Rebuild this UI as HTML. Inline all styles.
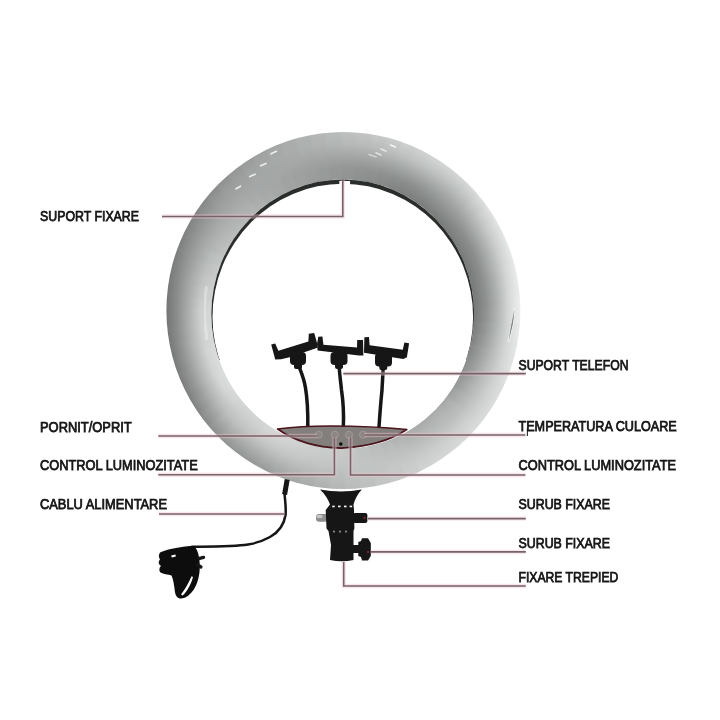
<!DOCTYPE html>
<html lang="ro">
<head>
<meta charset="utf-8">
<title>Ring light</title>
<style>
  html,body{margin:0;padding:0;background:#fff;}
  body{width:720px;height:720px;overflow:hidden;}
  svg{display:block;}
  text{font-family:"Liberation Sans",sans-serif;font-size:14px;fill:#141414;stroke:#141414;stroke-width:0.75px;}
</style>
</head>
<body>
<svg width="720" height="720" viewBox="0 0 720 720">
  <defs>
    <radialGradient id="w0" gradientUnits="userSpaceOnUse" cx="343" cy="310.5" r="178"><stop offset="0.7360" stop-color="#d4d7d6"/><stop offset="0.8020" stop-color="#cacdcc"/><stop offset="0.8680" stop-color="#aaadac"/><stop offset="0.9340" stop-color="#8a8d8c"/><stop offset="1.0000" stop-color="#6f7271"/></radialGradient>
    <radialGradient id="w1" gradientUnits="userSpaceOnUse" cx="343" cy="310.5" r="178"><stop offset="0.7360" stop-color="#d0d2d2"/><stop offset="0.8020" stop-color="#c6c8c8"/><stop offset="0.8680" stop-color="#a9acab"/><stop offset="0.9340" stop-color="#8b8e8d"/><stop offset="1.0000" stop-color="#727574"/></radialGradient>
    <radialGradient id="w2" gradientUnits="userSpaceOnUse" cx="343" cy="310.5" r="178"><stop offset="0.7360" stop-color="#cbcecd"/><stop offset="0.8020" stop-color="#c1c4c3"/><stop offset="0.8680" stop-color="#a8abaa"/><stop offset="0.9340" stop-color="#8c8f8e"/><stop offset="1.0000" stop-color="#757877"/></radialGradient>
    <radialGradient id="w3" gradientUnits="userSpaceOnUse" cx="343" cy="310.5" r="178"><stop offset="0.7360" stop-color="#c7cac9"/><stop offset="0.8020" stop-color="#bdc0bf"/><stop offset="0.8680" stop-color="#a6a9a8"/><stop offset="0.9340" stop-color="#8e9190"/><stop offset="1.0000" stop-color="#777a79"/></radialGradient>
    <radialGradient id="w4" gradientUnits="userSpaceOnUse" cx="343" cy="310.5" r="178"><stop offset="0.7360" stop-color="#c2c6c4"/><stop offset="0.8020" stop-color="#b8bcba"/><stop offset="0.8680" stop-color="#a5a8a7"/><stop offset="0.9340" stop-color="#8f9291"/><stop offset="1.0000" stop-color="#7a7d7c"/></radialGradient>
    <radialGradient id="w5" gradientUnits="userSpaceOnUse" cx="343" cy="310.5" r="178"><stop offset="0.7360" stop-color="#bec1c0"/><stop offset="0.8020" stop-color="#b4b7b6"/><stop offset="0.8680" stop-color="#a4a7a6"/><stop offset="0.9340" stop-color="#909392"/><stop offset="1.0000" stop-color="#7d807f"/></radialGradient>
    <radialGradient id="w6" gradientUnits="userSpaceOnUse" cx="343" cy="310.5" r="178"><stop offset="0.7360" stop-color="#bbbebd"/><stop offset="0.8020" stop-color="#b1b4b3"/><stop offset="0.8680" stop-color="#a3a6a5"/><stop offset="0.9340" stop-color="#929594"/><stop offset="1.0000" stop-color="#808382"/></radialGradient>
    <radialGradient id="w7" gradientUnits="userSpaceOnUse" cx="343" cy="310.5" r="178"><stop offset="0.7360" stop-color="#b8bcba"/><stop offset="0.8020" stop-color="#afb2b1"/><stop offset="0.8680" stop-color="#a2a6a4"/><stop offset="0.9340" stop-color="#959897"/><stop offset="1.0000" stop-color="#848786"/></radialGradient>
    <radialGradient id="w8" gradientUnits="userSpaceOnUse" cx="343" cy="310.5" r="178"><stop offset="0.7360" stop-color="#b6b9b8"/><stop offset="0.8020" stop-color="#adb0af"/><stop offset="0.8680" stop-color="#a2a5a4"/><stop offset="0.9340" stop-color="#989b9a"/><stop offset="1.0000" stop-color="#888b8a"/></radialGradient>
    <radialGradient id="w9" gradientUnits="userSpaceOnUse" cx="343" cy="310.5" r="178"><stop offset="0.7360" stop-color="#b2b6b4"/><stop offset="0.8020" stop-color="#abaead"/><stop offset="0.8680" stop-color="#a2a5a4"/><stop offset="0.9340" stop-color="#9b9e9d"/><stop offset="1.0000" stop-color="#8d908f"/></radialGradient>
    <radialGradient id="w10" gradientUnits="userSpaceOnUse" cx="343" cy="310.5" r="178"><stop offset="0.7360" stop-color="#aeb0b0"/><stop offset="0.8020" stop-color="#a8abaa"/><stop offset="0.8680" stop-color="#a3a6a5"/><stop offset="0.9340" stop-color="#9ea0a0"/><stop offset="1.0000" stop-color="#939695"/></radialGradient>
    <radialGradient id="w11" gradientUnits="userSpaceOnUse" cx="343" cy="310.5" r="178"><stop offset="0.7360" stop-color="#a8acaa"/><stop offset="0.8020" stop-color="#a5a8a7"/><stop offset="0.8680" stop-color="#a4a7a6"/><stop offset="0.9340" stop-color="#a0a4a2"/><stop offset="1.0000" stop-color="#999c9b"/></radialGradient>
    <radialGradient id="w12" gradientUnits="userSpaceOnUse" cx="343" cy="310.5" r="178"><stop offset="0.7360" stop-color="#a4a7a6"/><stop offset="0.8020" stop-color="#a3a6a5"/><stop offset="0.8680" stop-color="#a4a7a6"/><stop offset="0.9340" stop-color="#a3a6a5"/><stop offset="1.0000" stop-color="#9fa2a1"/></radialGradient>
    <radialGradient id="w13" gradientUnits="userSpaceOnUse" cx="343" cy="310.5" r="178"><stop offset="0.7360" stop-color="#a1a4a3"/><stop offset="0.8020" stop-color="#a0a3a2"/><stop offset="0.8680" stop-color="#a4a7a6"/><stop offset="0.9340" stop-color="#a6aaa8"/><stop offset="1.0000" stop-color="#a4a7a6"/></radialGradient>
    <radialGradient id="w14" gradientUnits="userSpaceOnUse" cx="343" cy="310.5" r="178"><stop offset="0.7360" stop-color="#9ea1a0"/><stop offset="0.8020" stop-color="#9da09f"/><stop offset="0.8680" stop-color="#a4a7a6"/><stop offset="0.9340" stop-color="#aaacac"/><stop offset="1.0000" stop-color="#a9acab"/></radialGradient>
    <radialGradient id="w15" gradientUnits="userSpaceOnUse" cx="343" cy="310.5" r="178"><stop offset="0.7360" stop-color="#9a9d9c"/><stop offset="0.8020" stop-color="#9b9e9d"/><stop offset="0.8680" stop-color="#a3a6a5"/><stop offset="0.9340" stop-color="#acb0ae"/><stop offset="1.0000" stop-color="#afb2b1"/></radialGradient>
    <radialGradient id="w16" gradientUnits="userSpaceOnUse" cx="343" cy="310.5" r="178"><stop offset="0.7360" stop-color="#979a99"/><stop offset="0.8020" stop-color="#989b9a"/><stop offset="0.8680" stop-color="#a3a6a5"/><stop offset="0.9340" stop-color="#b0b2b2"/><stop offset="1.0000" stop-color="#b4b7b6"/></radialGradient>
    <radialGradient id="w17" gradientUnits="userSpaceOnUse" cx="343" cy="310.5" r="178"><stop offset="0.7360" stop-color="#949796"/><stop offset="0.8020" stop-color="#959897"/><stop offset="0.8680" stop-color="#a3a6a5"/><stop offset="0.9340" stop-color="#b2b6b4"/><stop offset="1.0000" stop-color="#b9bcbb"/></radialGradient>
    <radialGradient id="w18" gradientUnits="userSpaceOnUse" cx="343" cy="310.5" r="178"><stop offset="0.7360" stop-color="#909392"/><stop offset="0.8020" stop-color="#939695"/><stop offset="0.8680" stop-color="#a3a6a5"/><stop offset="0.9340" stop-color="#b5b8b7"/><stop offset="1.0000" stop-color="#bec1c0"/></radialGradient>
    <radialGradient id="w19" gradientUnits="userSpaceOnUse" cx="343" cy="310.5" r="178"><stop offset="0.7360" stop-color="#8c908e"/><stop offset="0.8020" stop-color="#929494"/><stop offset="0.8680" stop-color="#a4a6a6"/><stop offset="0.9340" stop-color="#b7bab9"/><stop offset="1.0000" stop-color="#c2c4c4"/></radialGradient>
    <radialGradient id="w20" gradientUnits="userSpaceOnUse" cx="343" cy="310.5" r="178"><stop offset="0.7360" stop-color="#898c8b"/><stop offset="0.8020" stop-color="#909392"/><stop offset="0.8680" stop-color="#a4a7a6"/><stop offset="0.9340" stop-color="#b9bcbb"/><stop offset="1.0000" stop-color="#c5c8c7"/></radialGradient>
    <radialGradient id="w21" gradientUnits="userSpaceOnUse" cx="343" cy="310.5" r="178"><stop offset="0.7360" stop-color="#858887"/><stop offset="0.8020" stop-color="#8e9190"/><stop offset="0.8680" stop-color="#a4a7a6"/><stop offset="0.9340" stop-color="#bcbfbe"/><stop offset="1.0000" stop-color="#c9cccb"/></radialGradient>
    <radialGradient id="w22" gradientUnits="userSpaceOnUse" cx="343" cy="310.5" r="178"><stop offset="0.7360" stop-color="#828484"/><stop offset="0.8020" stop-color="#8c908e"/><stop offset="0.8680" stop-color="#a4a8a6"/><stop offset="0.9340" stop-color="#bec1c0"/><stop offset="1.0000" stop-color="#ccd0ce"/></radialGradient>
    <radialGradient id="w23" gradientUnits="userSpaceOnUse" cx="343" cy="310.5" r="178"><stop offset="0.7360" stop-color="#7e8180"/><stop offset="0.8020" stop-color="#8b8e8d"/><stop offset="0.8680" stop-color="#a5a8a7"/><stop offset="0.9340" stop-color="#c0c3c2"/><stop offset="1.0000" stop-color="#d0d3d2"/></radialGradient>
    <radialGradient id="w24" gradientUnits="userSpaceOnUse" cx="343" cy="310.5" r="178"><stop offset="0.7360" stop-color="#7b7e7d"/><stop offset="0.8020" stop-color="#8b8e8d"/><stop offset="0.8680" stop-color="#a5a8a7"/><stop offset="0.9340" stop-color="#c0c4c2"/><stop offset="1.0000" stop-color="#d3d6d5"/></radialGradient>
    <radialGradient id="w25" gradientUnits="userSpaceOnUse" cx="343" cy="310.5" r="178"><stop offset="0.7360" stop-color="#7a7d7c"/><stop offset="0.8020" stop-color="#8c908e"/><stop offset="0.8680" stop-color="#a4a8a6"/><stop offset="0.9340" stop-color="#c0c2c2"/><stop offset="1.0000" stop-color="#d4d7d6"/></radialGradient>
    <radialGradient id="w26" gradientUnits="userSpaceOnUse" cx="343" cy="310.5" r="178"><stop offset="0.7360" stop-color="#797c7b"/><stop offset="0.8020" stop-color="#8e9190"/><stop offset="0.8680" stop-color="#a4a7a6"/><stop offset="0.9340" stop-color="#bec2c0"/><stop offset="1.0000" stop-color="#d5d8d7"/></radialGradient>
    <radialGradient id="w27" gradientUnits="userSpaceOnUse" cx="343" cy="310.5" r="178"><stop offset="0.7360" stop-color="#787c7a"/><stop offset="0.8020" stop-color="#8e9190"/><stop offset="0.8680" stop-color="#a5a8a7"/><stop offset="0.9340" stop-color="#c0c3c2"/><stop offset="1.0000" stop-color="#d8dbda"/></radialGradient>
    <radialGradient id="w28" gradientUnits="userSpaceOnUse" cx="343" cy="310.5" r="178"><stop offset="0.7360" stop-color="#7a7c7c"/><stop offset="0.8020" stop-color="#8d908f"/><stop offset="0.8680" stop-color="#a7aaa9"/><stop offset="0.9340" stop-color="#c4c7c6"/><stop offset="1.0000" stop-color="#dcdfde"/></radialGradient>
    <radialGradient id="w29" gradientUnits="userSpaceOnUse" cx="343" cy="310.5" r="178"><stop offset="0.7360" stop-color="#7a7e7c"/><stop offset="0.8020" stop-color="#8c8f8e"/><stop offset="0.8680" stop-color="#a9acab"/><stop offset="0.9340" stop-color="#c8cbca"/><stop offset="1.0000" stop-color="#e0e3e2"/></radialGradient>
    <radialGradient id="w30" gradientUnits="userSpaceOnUse" cx="343" cy="310.5" r="178"><stop offset="0.7360" stop-color="#7a7d7c"/><stop offset="0.8020" stop-color="#8b8e8d"/><stop offset="0.8680" stop-color="#aaaeac"/><stop offset="0.9340" stop-color="#cbcecd"/><stop offset="1.0000" stop-color="#e3e6e5"/></radialGradient>
    <radialGradient id="w31" gradientUnits="userSpaceOnUse" cx="343" cy="310.5" r="178"><stop offset="0.7360" stop-color="#797c7b"/><stop offset="0.8020" stop-color="#8c8e8e"/><stop offset="0.8680" stop-color="#acaeae"/><stop offset="0.9340" stop-color="#cdd0cf"/><stop offset="1.0000" stop-color="#e5e8e7"/></radialGradient>
    <radialGradient id="w32" gradientUnits="userSpaceOnUse" cx="343" cy="310.5" r="178"><stop offset="0.7360" stop-color="#787b7a"/><stop offset="0.8020" stop-color="#8c8f8e"/><stop offset="0.8680" stop-color="#acb0ae"/><stop offset="0.9340" stop-color="#cfd2d1"/><stop offset="1.0000" stop-color="#e7eae9"/></radialGradient>
    <radialGradient id="w33" gradientUnits="userSpaceOnUse" cx="343" cy="310.5" r="178"><stop offset="0.7360" stop-color="#777a79"/><stop offset="0.8020" stop-color="#8c8f8e"/><stop offset="0.8680" stop-color="#aeb0b0"/><stop offset="0.9340" stop-color="#d2d5d4"/><stop offset="1.0000" stop-color="#e9eceb"/></radialGradient>
    <radialGradient id="w34" gradientUnits="userSpaceOnUse" cx="343" cy="310.5" r="178"><stop offset="0.7360" stop-color="#767978"/><stop offset="0.8020" stop-color="#8c908e"/><stop offset="0.8680" stop-color="#aeb2b0"/><stop offset="0.9340" stop-color="#d4d7d6"/><stop offset="1.0000" stop-color="#ebeeed"/></radialGradient>
    <radialGradient id="w35" gradientUnits="userSpaceOnUse" cx="343" cy="310.5" r="178"><stop offset="0.7360" stop-color="#757877"/><stop offset="0.8020" stop-color="#8d908f"/><stop offset="0.8680" stop-color="#b0b2b2"/><stop offset="0.9340" stop-color="#d6d9d8"/><stop offset="1.0000" stop-color="#edf0ef"/></radialGradient>
    <radialGradient id="w36" gradientUnits="userSpaceOnUse" cx="343" cy="310.5" r="178"><stop offset="0.7360" stop-color="#767978"/><stop offset="0.8020" stop-color="#8f9291"/><stop offset="0.8680" stop-color="#b1b4b3"/><stop offset="0.9340" stop-color="#d6d9d8"/><stop offset="1.0000" stop-color="#ecf0ee"/></radialGradient>
    <radialGradient id="w37" gradientUnits="userSpaceOnUse" cx="343" cy="310.5" r="178"><stop offset="0.7360" stop-color="#7a7c7c"/><stop offset="0.8020" stop-color="#929594"/><stop offset="0.8680" stop-color="#b2b6b4"/><stop offset="0.9340" stop-color="#d4d8d6"/><stop offset="1.0000" stop-color="#eaecec"/></radialGradient>
    <radialGradient id="w38" gradientUnits="userSpaceOnUse" cx="343" cy="310.5" r="178"><stop offset="0.7360" stop-color="#7d807f"/><stop offset="0.8020" stop-color="#959897"/><stop offset="0.8680" stop-color="#b4b7b6"/><stop offset="0.9340" stop-color="#d3d6d5"/><stop offset="1.0000" stop-color="#e6e9e8"/></radialGradient>
    <radialGradient id="w39" gradientUnits="userSpaceOnUse" cx="343" cy="310.5" r="178"><stop offset="0.7360" stop-color="#818483"/><stop offset="0.8020" stop-color="#999c9b"/><stop offset="0.8680" stop-color="#b6b9b8"/><stop offset="0.9340" stop-color="#d1d4d3"/><stop offset="1.0000" stop-color="#e4e6e6"/></radialGradient>
    <radialGradient id="w40" gradientUnits="userSpaceOnUse" cx="343" cy="310.5" r="178"><stop offset="0.7360" stop-color="#848886"/><stop offset="0.8020" stop-color="#9c9f9e"/><stop offset="0.8680" stop-color="#b8baba"/><stop offset="0.9340" stop-color="#d0d2d2"/><stop offset="1.0000" stop-color="#e0e4e2"/></radialGradient>
    <radialGradient id="w41" gradientUnits="userSpaceOnUse" cx="343" cy="310.5" r="178"><stop offset="0.7360" stop-color="#888b8a"/><stop offset="0.8020" stop-color="#9fa2a1"/><stop offset="0.8680" stop-color="#b9bcbb"/><stop offset="0.9340" stop-color="#ced1d0"/><stop offset="1.0000" stop-color="#dee0e0"/></radialGradient>
    <radialGradient id="w42" gradientUnits="userSpaceOnUse" cx="343" cy="310.5" r="178"><stop offset="0.7360" stop-color="#8e9190"/><stop offset="0.8020" stop-color="#a4a7a6"/><stop offset="0.8680" stop-color="#babdbc"/><stop offset="0.9340" stop-color="#cdd0cf"/><stop offset="1.0000" stop-color="#dbdedd"/></radialGradient>
    <radialGradient id="w43" gradientUnits="userSpaceOnUse" cx="343" cy="310.5" r="178"><stop offset="0.7360" stop-color="#969a98"/><stop offset="0.8020" stop-color="#aaacac"/><stop offset="0.8680" stop-color="#bbbebd"/><stop offset="0.9340" stop-color="#ced0d0"/><stop offset="1.0000" stop-color="#dadddc"/></radialGradient>
    <radialGradient id="w44" gradientUnits="userSpaceOnUse" cx="343" cy="310.5" r="178"><stop offset="0.7360" stop-color="#9fa2a1"/><stop offset="0.8020" stop-color="#afb2b1"/><stop offset="0.8680" stop-color="#bcbfbe"/><stop offset="0.9340" stop-color="#ced1d0"/><stop offset="1.0000" stop-color="#d9dcdb"/></radialGradient>
    <radialGradient id="w45" gradientUnits="userSpaceOnUse" cx="343" cy="310.5" r="178"><stop offset="0.7360" stop-color="#a2a5a4"/><stop offset="0.8020" stop-color="#b1b4b3"/><stop offset="0.8680" stop-color="#bcbfbe"/><stop offset="0.9340" stop-color="#cdd0cf"/><stop offset="1.0000" stop-color="#d7dad9"/></radialGradient>
    <radialGradient id="w46" gradientUnits="userSpaceOnUse" cx="343" cy="310.5" r="178"><stop offset="0.7360" stop-color="#a0a4a2"/><stop offset="0.8020" stop-color="#b0b3b2"/><stop offset="0.8680" stop-color="#bcc0be"/><stop offset="0.9340" stop-color="#cccfce"/><stop offset="1.0000" stop-color="#d5d8d7"/></radialGradient>
    <radialGradient id="w47" gradientUnits="userSpaceOnUse" cx="343" cy="310.5" r="178"><stop offset="0.7360" stop-color="#9fa2a1"/><stop offset="0.8020" stop-color="#afb2b1"/><stop offset="0.8680" stop-color="#bdc0bf"/><stop offset="0.9340" stop-color="#cbcecd"/><stop offset="1.0000" stop-color="#d3d6d5"/></radialGradient>
    <radialGradient id="w48" gradientUnits="userSpaceOnUse" cx="343" cy="310.5" r="178"><stop offset="0.7360" stop-color="#a1a4a3"/><stop offset="0.8020" stop-color="#b0b3b2"/><stop offset="0.8680" stop-color="#bdc0bf"/><stop offset="0.9340" stop-color="#c9cccb"/><stop offset="1.0000" stop-color="#d0d3d2"/></radialGradient>
    <radialGradient id="w49" gradientUnits="userSpaceOnUse" cx="343" cy="310.5" r="178"><stop offset="0.7360" stop-color="#a8abaa"/><stop offset="0.8020" stop-color="#b4b7b6"/><stop offset="0.8680" stop-color="#bec1c0"/><stop offset="0.9340" stop-color="#c7cac9"/><stop offset="1.0000" stop-color="#cbcecd"/></radialGradient>
    <radialGradient id="w50" gradientUnits="userSpaceOnUse" cx="343" cy="310.5" r="178"><stop offset="0.7360" stop-color="#afb2b1"/><stop offset="0.8020" stop-color="#b8bbba"/><stop offset="0.8680" stop-color="#bfc2c1"/><stop offset="0.9340" stop-color="#c5c8c7"/><stop offset="1.0000" stop-color="#c6c9c8"/></radialGradient>
    <radialGradient id="w51" gradientUnits="userSpaceOnUse" cx="343" cy="310.5" r="178"><stop offset="0.7360" stop-color="#b5b8b7"/><stop offset="0.8020" stop-color="#bbbebd"/><stop offset="0.8680" stop-color="#c0c3c2"/><stop offset="0.9340" stop-color="#c2c5c4"/><stop offset="1.0000" stop-color="#c2c5c4"/></radialGradient>
    <radialGradient id="w52" gradientUnits="userSpaceOnUse" cx="343" cy="310.5" r="178"><stop offset="0.7360" stop-color="#bcbfbe"/><stop offset="0.8020" stop-color="#bfc2c1"/><stop offset="0.8680" stop-color="#c1c4c3"/><stop offset="0.9340" stop-color="#c0c3c2"/><stop offset="1.0000" stop-color="#bdc0bf"/></radialGradient>
    <radialGradient id="w53" gradientUnits="userSpaceOnUse" cx="343" cy="310.5" r="178"><stop offset="0.7360" stop-color="#c3c6c5"/><stop offset="0.8020" stop-color="#c3c6c5"/><stop offset="0.8680" stop-color="#c2c5c4"/><stop offset="0.9340" stop-color="#bec1c0"/><stop offset="1.0000" stop-color="#b8bbba"/></radialGradient>
    <radialGradient id="w54" gradientUnits="userSpaceOnUse" cx="343" cy="310.5" r="178"><stop offset="0.7360" stop-color="#c8cbca"/><stop offset="0.8020" stop-color="#c6c9c8"/><stop offset="0.8680" stop-color="#c2c5c4"/><stop offset="0.9340" stop-color="#bbbebd"/><stop offset="1.0000" stop-color="#b3b6b5"/></radialGradient>
    <radialGradient id="w55" gradientUnits="userSpaceOnUse" cx="343" cy="310.5" r="178"><stop offset="0.7360" stop-color="#cbcecd"/><stop offset="0.8020" stop-color="#c8ccca"/><stop offset="0.8680" stop-color="#c2c5c4"/><stop offset="0.9340" stop-color="#b8bbba"/><stop offset="1.0000" stop-color="#aeb0b0"/></radialGradient>
    <radialGradient id="w56" gradientUnits="userSpaceOnUse" cx="343" cy="310.5" r="178"><stop offset="0.7360" stop-color="#ced1d0"/><stop offset="0.8020" stop-color="#cbcecd"/><stop offset="0.8680" stop-color="#c2c5c4"/><stop offset="0.9340" stop-color="#b5b8b7"/><stop offset="1.0000" stop-color="#a8abaa"/></radialGradient>
    <radialGradient id="w57" gradientUnits="userSpaceOnUse" cx="343" cy="310.5" r="178"><stop offset="0.7360" stop-color="#d2d5d4"/><stop offset="0.8020" stop-color="#cdd0cf"/><stop offset="0.8680" stop-color="#c3c6c5"/><stop offset="0.9340" stop-color="#b2b5b4"/><stop offset="1.0000" stop-color="#a2a5a4"/></radialGradient>
    <radialGradient id="w58" gradientUnits="userSpaceOnUse" cx="343" cy="310.5" r="178"><stop offset="0.7360" stop-color="#d5d8d7"/><stop offset="0.8020" stop-color="#d0d2d2"/><stop offset="0.8680" stop-color="#c3c6c5"/><stop offset="0.9340" stop-color="#afb2b1"/><stop offset="1.0000" stop-color="#9ca09e"/></radialGradient>
    <radialGradient id="w59" gradientUnits="userSpaceOnUse" cx="343" cy="310.5" r="178"><stop offset="0.7360" stop-color="#d8dbda"/><stop offset="0.8020" stop-color="#d2d5d4"/><stop offset="0.8680" stop-color="#c3c6c5"/><stop offset="0.9340" stop-color="#acafae"/><stop offset="1.0000" stop-color="#979a99"/></radialGradient>
    <radialGradient id="w60" gradientUnits="userSpaceOnUse" cx="343" cy="310.5" r="178"><stop offset="0.7360" stop-color="#d9dcdb"/><stop offset="0.8020" stop-color="#d2d5d4"/><stop offset="0.8680" stop-color="#c2c5c4"/><stop offset="0.9340" stop-color="#a9acab"/><stop offset="1.0000" stop-color="#939695"/></radialGradient>
    <radialGradient id="w61" gradientUnits="userSpaceOnUse" cx="343" cy="310.5" r="178"><stop offset="0.7360" stop-color="#d8dbda"/><stop offset="0.8020" stop-color="#d0d2d2"/><stop offset="0.8680" stop-color="#c0c4c2"/><stop offset="0.9340" stop-color="#a8abaa"/><stop offset="1.0000" stop-color="#909492"/></radialGradient>
    <radialGradient id="w62" gradientUnits="userSpaceOnUse" cx="343" cy="310.5" r="178"><stop offset="0.7360" stop-color="#d7dad9"/><stop offset="0.8020" stop-color="#cdd0cf"/><stop offset="0.8680" stop-color="#bfc2c1"/><stop offset="0.9340" stop-color="#a7aaa9"/><stop offset="1.0000" stop-color="#8e9190"/></radialGradient>
    <radialGradient id="w63" gradientUnits="userSpaceOnUse" cx="343" cy="310.5" r="178"><stop offset="0.7360" stop-color="#d8dbda"/><stop offset="0.8020" stop-color="#cdd0cf"/><stop offset="0.8680" stop-color="#bdc0bf"/><stop offset="0.9340" stop-color="#a3a6a5"/><stop offset="1.0000" stop-color="#8a8d8c"/></radialGradient>
    <radialGradient id="w64" gradientUnits="userSpaceOnUse" cx="343" cy="310.5" r="178"><stop offset="0.7360" stop-color="#dbdedd"/><stop offset="0.8020" stop-color="#d0d3d2"/><stop offset="0.8680" stop-color="#babdbc"/><stop offset="0.9340" stop-color="#9ea0a0"/><stop offset="1.0000" stop-color="#848786"/></radialGradient>
    <radialGradient id="w65" gradientUnits="userSpaceOnUse" cx="343" cy="310.5" r="178"><stop offset="0.7360" stop-color="#dee1e0"/><stop offset="0.8020" stop-color="#d3d6d5"/><stop offset="0.8680" stop-color="#b7bab9"/><stop offset="0.9340" stop-color="#989b9a"/><stop offset="1.0000" stop-color="#7e8180"/></radialGradient>
    <radialGradient id="w66" gradientUnits="userSpaceOnUse" cx="343" cy="310.5" r="178"><stop offset="0.7360" stop-color="#dfe2e1"/><stop offset="0.8020" stop-color="#d3d6d5"/><stop offset="0.8680" stop-color="#b5b8b7"/><stop offset="0.9340" stop-color="#949796"/><stop offset="1.0000" stop-color="#7a7d7c"/></radialGradient>
    <radialGradient id="w67" gradientUnits="userSpaceOnUse" cx="343" cy="310.5" r="178"><stop offset="0.7360" stop-color="#dee0e0"/><stop offset="0.8020" stop-color="#d2d5d4"/><stop offset="0.8680" stop-color="#b3b6b5"/><stop offset="0.9340" stop-color="#929594"/><stop offset="1.0000" stop-color="#787b7a"/></radialGradient>
    <radialGradient id="w68" gradientUnits="userSpaceOnUse" cx="343" cy="310.5" r="178"><stop offset="0.7360" stop-color="#dcdfde"/><stop offset="0.8020" stop-color="#d1d4d3"/><stop offset="0.8680" stop-color="#b1b4b3"/><stop offset="0.9340" stop-color="#909392"/><stop offset="1.0000" stop-color="#767978"/></radialGradient>
    <radialGradient id="w69" gradientUnits="userSpaceOnUse" cx="343" cy="310.5" r="178"><stop offset="0.7360" stop-color="#dadddc"/><stop offset="0.8020" stop-color="#cfd2d1"/><stop offset="0.8680" stop-color="#b0b3b2"/><stop offset="0.9340" stop-color="#8e9190"/><stop offset="1.0000" stop-color="#737675"/></radialGradient>
    <radialGradient id="w70" gradientUnits="userSpaceOnUse" cx="343" cy="310.5" r="178"><stop offset="0.7360" stop-color="#d8dcda"/><stop offset="0.8020" stop-color="#ced1d0"/><stop offset="0.8680" stop-color="#aeb1b0"/><stop offset="0.9340" stop-color="#8c8f8e"/><stop offset="1.0000" stop-color="#717473"/></radialGradient>
    <radialGradient id="w71" gradientUnits="userSpaceOnUse" cx="343" cy="310.5" r="178"><stop offset="0.7360" stop-color="#d7dad9"/><stop offset="0.8020" stop-color="#cdd0cf"/><stop offset="0.8680" stop-color="#acafae"/><stop offset="0.9340" stop-color="#8a8d8c"/><stop offset="1.0000" stop-color="#6f7271"/></radialGradient>
    <clipPath id="ringClip"><path clip-rule="evenodd" d="M343.4,132 a177,178.5 0 1 0 0.01,0 Z M342.75,179.5 a131.4,134.6 0 1 1 -0.01,0 Z"/></clipPath>
    <clipPath id="hole"><ellipse cx="342.75" cy="314.1" rx="131.4" ry="134.6"/></clipPath>
    <filter id="soft" x="-5%" y="-5%" width="110%" height="110%"><feGaussianBlur stdDeviation="0.6"/></filter>
    <filter id="wb" x="-5%" y="-5%" width="110%" height="110%"><feGaussianBlur stdDeviation="1.3"/></filter>
    <filter id="soft2" x="-5%" y="-5%" width="110%" height="110%"><feGaussianBlur stdDeviation="0.45"/></filter>
    <filter id="soft3" x="-20%" y="-20%" width="140%" height="140%"><feGaussianBlur stdDeviation="2"/></filter>
    <filter id="softL" x="-5%" y="-5%" width="110%" height="110%"><feGaussianBlur stdDeviation="0.3"/></filter>
  </defs>

  <!-- RING -->
  <g filter="url(#soft)">
    <g clip-path="url(#ringClip)">
      <g filter="url(#wb)">
        <path d="M219.01,311.80 L157.01,312.45 A186,186 0 0 1 157.89,292.35 L219.59,298.40 A124,124 0 0 0 219.01,311.80 Z" fill="url(#w0)"/>
        <path d="M219.37,300.99 L157.55,296.23 A186,186 0 0 1 160.17,276.29 L221.12,287.69 A124,124 0 0 0 219.37,300.99 Z" fill="url(#w1)"/>
        <path d="M220.67,290.25 L159.50,280.12 A186,186 0 0 1 163.85,260.48 L223.57,277.15 A124,124 0 0 0 220.67,290.25 Z" fill="url(#w2)"/>
        <path d="M222.90,279.66 L162.84,264.24 A186,186 0 0 1 168.89,245.06 L226.93,266.87 A124,124 0 0 0 222.90,279.66 Z" fill="url(#w3)"/>
        <path d="M226.04,269.31 L167.56,248.72 A186,186 0 0 1 175.26,230.13 L231.17,256.92 A124,124 0 0 0 226.04,269.31 Z" fill="url(#w4)"/>
        <path d="M230.08,259.28 L173.61,233.66 A186,186 0 0 1 182.90,215.82 L236.27,247.38 A124,124 0 0 0 230.08,259.28 Z" fill="url(#w5)"/>
        <path d="M234.97,249.63 L180.95,219.19 A186,186 0 0 1 191.76,202.23 L242.18,238.32 A124,124 0 0 0 234.97,249.63 Z" fill="url(#w6)"/>
        <path d="M240.69,240.44 L189.53,205.42 A186,186 0 0 1 201.78,189.46 L248.85,229.80 A124,124 0 0 0 240.69,240.44 Z" fill="url(#w7)"/>
        <path d="M247.18,231.79 L199.27,192.44 A186,186 0 0 1 212.86,177.61 L256.24,221.91 A124,124 0 0 0 247.18,231.79 Z" fill="url(#w8)"/>
        <path d="M254.41,223.74 L210.11,180.36 A186,186 0 0 1 224.94,166.77 L264.29,214.68 A124,124 0 0 0 254.41,223.74 Z" fill="url(#w9)"/>
        <path d="M262.30,216.35 L221.96,169.28 A186,186 0 0 1 237.92,157.03 L272.94,208.19 A124,124 0 0 0 262.30,216.35 Z" fill="url(#w10)"/>
        <path d="M270.82,209.68 L234.73,159.26 A186,186 0 0 1 251.69,148.45 L282.13,202.47 A124,124 0 0 0 270.82,209.68 Z" fill="url(#w11)"/>
        <path d="M279.88,203.77 L248.32,150.40 A186,186 0 0 1 266.16,141.11 L291.78,197.58 A124,124 0 0 0 279.88,203.77 Z" fill="url(#w12)"/>
        <path d="M289.42,198.67 L262.63,142.76 A186,186 0 0 1 281.22,135.06 L301.81,193.54 A124,124 0 0 0 289.42,198.67 Z" fill="url(#w13)"/>
        <path d="M299.37,194.43 L277.56,136.39 A186,186 0 0 1 296.74,130.34 L312.16,190.40 A124,124 0 0 0 299.37,194.43 Z" fill="url(#w14)"/>
        <path d="M309.65,191.07 L292.98,131.35 A186,186 0 0 1 312.62,127.00 L322.75,188.17 A124,124 0 0 0 309.65,191.07 Z" fill="url(#w15)"/>
        <path d="M320.19,188.62 L308.79,127.67 A186,186 0 0 1 328.73,125.05 L333.49,186.87 A124,124 0 0 0 320.19,188.62 Z" fill="url(#w16)"/>
        <path d="M330.90,187.09 L324.85,125.39 A186,186 0 0 1 344.95,124.51 L344.30,186.51 A124,124 0 0 0 330.90,187.09 Z" fill="url(#w17)"/>
        <path d="M341.70,186.51 L341.05,124.51 A186,186 0 0 1 361.15,125.39 L355.10,187.09 A124,124 0 0 0 341.70,186.51 Z" fill="url(#w18)"/>
        <path d="M352.51,186.87 L357.27,125.05 A186,186 0 0 1 377.21,127.67 L365.81,188.62 A124,124 0 0 0 352.51,186.87 Z" fill="url(#w19)"/>
        <path d="M363.25,188.17 L373.38,127.00 A186,186 0 0 1 393.02,131.35 L376.35,191.07 A124,124 0 0 0 363.25,188.17 Z" fill="url(#w20)"/>
        <path d="M373.84,190.40 L389.26,130.34 A186,186 0 0 1 408.44,136.39 L386.63,194.43 A124,124 0 0 0 373.84,190.40 Z" fill="url(#w21)"/>
        <path d="M384.19,193.54 L404.78,135.06 A186,186 0 0 1 423.37,142.76 L396.58,198.67 A124,124 0 0 0 384.19,193.54 Z" fill="url(#w22)"/>
        <path d="M394.22,197.58 L419.84,141.11 A186,186 0 0 1 437.68,150.40 L406.12,203.77 A124,124 0 0 0 394.22,197.58 Z" fill="url(#w23)"/>
        <path d="M403.87,202.47 L434.31,148.45 A186,186 0 0 1 451.27,159.26 L415.18,209.68 A124,124 0 0 0 403.87,202.47 Z" fill="url(#w24)"/>
        <path d="M413.06,208.19 L448.08,157.03 A186,186 0 0 1 464.04,169.28 L423.70,216.35 A124,124 0 0 0 413.06,208.19 Z" fill="url(#w25)"/>
        <path d="M421.71,214.68 L461.06,166.77 A186,186 0 0 1 475.89,180.36 L431.59,223.74 A124,124 0 0 0 421.71,214.68 Z" fill="url(#w26)"/>
        <path d="M429.76,221.91 L473.14,177.61 A186,186 0 0 1 486.73,192.44 L438.82,231.79 A124,124 0 0 0 429.76,221.91 Z" fill="url(#w27)"/>
        <path d="M437.15,229.80 L484.22,189.46 A186,186 0 0 1 496.47,205.42 L445.31,240.44 A124,124 0 0 0 437.15,229.80 Z" fill="url(#w28)"/>
        <path d="M443.82,238.32 L494.24,202.23 A186,186 0 0 1 505.05,219.19 L451.03,249.63 A124,124 0 0 0 443.82,238.32 Z" fill="url(#w29)"/>
        <path d="M449.73,247.38 L503.10,215.82 A186,186 0 0 1 512.39,233.66 L455.92,259.28 A124,124 0 0 0 449.73,247.38 Z" fill="url(#w30)"/>
        <path d="M454.83,256.92 L510.74,230.13 A186,186 0 0 1 518.44,248.72 L459.96,269.31 A124,124 0 0 0 454.83,256.92 Z" fill="url(#w31)"/>
        <path d="M459.07,266.87 L517.11,245.06 A186,186 0 0 1 523.16,264.24 L463.10,279.66 A124,124 0 0 0 459.07,266.87 Z" fill="url(#w32)"/>
        <path d="M462.43,277.15 L522.15,260.48 A186,186 0 0 1 526.50,280.12 L465.33,290.25 A124,124 0 0 0 462.43,277.15 Z" fill="url(#w33)"/>
        <path d="M464.88,287.69 L525.83,276.29 A186,186 0 0 1 528.45,296.23 L466.63,300.99 A124,124 0 0 0 464.88,287.69 Z" fill="url(#w34)"/>
        <path d="M466.41,298.40 L528.11,292.35 A186,186 0 0 1 528.99,312.45 L466.99,311.80 A124,124 0 0 0 466.41,298.40 Z" fill="url(#w35)"/>
        <path d="M466.99,309.20 L528.99,308.55 A186,186 0 0 1 528.11,328.65 L466.41,322.60 A124,124 0 0 0 466.99,309.20 Z" fill="url(#w36)"/>
        <path d="M466.63,320.01 L528.45,324.77 A186,186 0 0 1 525.83,344.71 L464.88,333.31 A124,124 0 0 0 466.63,320.01 Z" fill="url(#w37)"/>
        <path d="M465.33,330.75 L526.50,340.88 A186,186 0 0 1 522.15,360.52 L462.43,343.85 A124,124 0 0 0 465.33,330.75 Z" fill="url(#w38)"/>
        <path d="M463.10,341.34 L523.16,356.76 A186,186 0 0 1 517.11,375.94 L459.07,354.13 A124,124 0 0 0 463.10,341.34 Z" fill="url(#w39)"/>
        <path d="M459.96,351.69 L518.44,372.28 A186,186 0 0 1 510.74,390.87 L454.83,364.08 A124,124 0 0 0 459.96,351.69 Z" fill="url(#w40)"/>
        <path d="M455.92,361.72 L512.39,387.34 A186,186 0 0 1 503.10,405.18 L449.73,373.62 A124,124 0 0 0 455.92,361.72 Z" fill="url(#w41)"/>
        <path d="M451.03,371.37 L505.05,401.81 A186,186 0 0 1 494.24,418.77 L443.82,382.68 A124,124 0 0 0 451.03,371.37 Z" fill="url(#w42)"/>
        <path d="M445.31,380.56 L496.47,415.58 A186,186 0 0 1 484.22,431.54 L437.15,391.20 A124,124 0 0 0 445.31,380.56 Z" fill="url(#w43)"/>
        <path d="M438.82,389.21 L486.73,428.56 A186,186 0 0 1 473.14,443.39 L429.76,399.09 A124,124 0 0 0 438.82,389.21 Z" fill="url(#w44)"/>
        <path d="M431.59,397.26 L475.89,440.64 A186,186 0 0 1 461.06,454.23 L421.71,406.32 A124,124 0 0 0 431.59,397.26 Z" fill="url(#w45)"/>
        <path d="M423.70,404.65 L464.04,451.72 A186,186 0 0 1 448.08,463.97 L413.06,412.81 A124,124 0 0 0 423.70,404.65 Z" fill="url(#w46)"/>
        <path d="M415.18,411.32 L451.27,461.74 A186,186 0 0 1 434.31,472.55 L403.87,418.53 A124,124 0 0 0 415.18,411.32 Z" fill="url(#w47)"/>
        <path d="M406.12,417.23 L437.68,470.60 A186,186 0 0 1 419.84,479.89 L394.22,423.42 A124,124 0 0 0 406.12,417.23 Z" fill="url(#w48)"/>
        <path d="M396.58,422.33 L423.37,478.24 A186,186 0 0 1 404.78,485.94 L384.19,427.46 A124,124 0 0 0 396.58,422.33 Z" fill="url(#w49)"/>
        <path d="M386.63,426.57 L408.44,484.61 A186,186 0 0 1 389.26,490.66 L373.84,430.60 A124,124 0 0 0 386.63,426.57 Z" fill="url(#w50)"/>
        <path d="M376.35,429.93 L393.02,489.65 A186,186 0 0 1 373.38,494.00 L363.25,432.83 A124,124 0 0 0 376.35,429.93 Z" fill="url(#w51)"/>
        <path d="M365.81,432.38 L377.21,493.33 A186,186 0 0 1 357.27,495.95 L352.51,434.13 A124,124 0 0 0 365.81,432.38 Z" fill="url(#w52)"/>
        <path d="M355.10,433.91 L361.15,495.61 A186,186 0 0 1 341.05,496.49 L341.70,434.49 A124,124 0 0 0 355.10,433.91 Z" fill="url(#w53)"/>
        <path d="M344.30,434.49 L344.95,496.49 A186,186 0 0 1 324.85,495.61 L330.90,433.91 A124,124 0 0 0 344.30,434.49 Z" fill="url(#w54)"/>
        <path d="M333.49,434.13 L328.73,495.95 A186,186 0 0 1 308.79,493.33 L320.19,432.38 A124,124 0 0 0 333.49,434.13 Z" fill="url(#w55)"/>
        <path d="M322.75,432.83 L312.62,494.00 A186,186 0 0 1 292.98,489.65 L309.65,429.93 A124,124 0 0 0 322.75,432.83 Z" fill="url(#w56)"/>
        <path d="M312.16,430.60 L296.74,490.66 A186,186 0 0 1 277.56,484.61 L299.37,426.57 A124,124 0 0 0 312.16,430.60 Z" fill="url(#w57)"/>
        <path d="M301.81,427.46 L281.22,485.94 A186,186 0 0 1 262.63,478.24 L289.42,422.33 A124,124 0 0 0 301.81,427.46 Z" fill="url(#w58)"/>
        <path d="M291.78,423.42 L266.16,479.89 A186,186 0 0 1 248.32,470.60 L279.88,417.23 A124,124 0 0 0 291.78,423.42 Z" fill="url(#w59)"/>
        <path d="M282.13,418.53 L251.69,472.55 A186,186 0 0 1 234.73,461.74 L270.82,411.32 A124,124 0 0 0 282.13,418.53 Z" fill="url(#w60)"/>
        <path d="M272.94,412.81 L237.92,463.97 A186,186 0 0 1 221.96,451.72 L262.30,404.65 A124,124 0 0 0 272.94,412.81 Z" fill="url(#w61)"/>
        <path d="M264.29,406.32 L224.94,454.23 A186,186 0 0 1 210.11,440.64 L254.41,397.26 A124,124 0 0 0 264.29,406.32 Z" fill="url(#w62)"/>
        <path d="M256.24,399.09 L212.86,443.39 A186,186 0 0 1 199.27,428.56 L247.18,389.21 A124,124 0 0 0 256.24,399.09 Z" fill="url(#w63)"/>
        <path d="M248.85,391.20 L201.78,431.54 A186,186 0 0 1 189.53,415.58 L240.69,380.56 A124,124 0 0 0 248.85,391.20 Z" fill="url(#w64)"/>
        <path d="M242.18,382.68 L191.76,418.77 A186,186 0 0 1 180.95,401.81 L234.97,371.37 A124,124 0 0 0 242.18,382.68 Z" fill="url(#w65)"/>
        <path d="M236.27,373.62 L182.90,405.18 A186,186 0 0 1 173.61,387.34 L230.08,361.72 A124,124 0 0 0 236.27,373.62 Z" fill="url(#w66)"/>
        <path d="M231.17,364.08 L175.26,390.87 A186,186 0 0 1 167.56,372.28 L226.04,351.69 A124,124 0 0 0 231.17,364.08 Z" fill="url(#w67)"/>
        <path d="M226.93,354.13 L168.89,375.94 A186,186 0 0 1 162.84,356.76 L222.90,341.34 A124,124 0 0 0 226.93,354.13 Z" fill="url(#w68)"/>
        <path d="M223.57,343.85 L163.85,360.52 A186,186 0 0 1 159.50,340.88 L220.67,330.75 A124,124 0 0 0 223.57,343.85 Z" fill="url(#w69)"/>
        <path d="M221.12,333.31 L160.17,344.71 A186,186 0 0 1 157.55,324.77 L219.37,320.01 A124,124 0 0 0 221.12,333.31 Z" fill="url(#w70)"/>
        <path d="M219.59,322.60 L157.89,328.65 A186,186 0 0 1 157.01,308.55 L219.01,309.20 A124,124 0 0 0 219.59,322.60 Z" fill="url(#w71)"/>
      </g>
    </g>
    <!-- dark inner rim (crescent) -->
    <g clip-path="url(#hole)">
      <rect x="200" y="170" width="290" height="190" fill="#2a2d2a"/>
      <ellipse cx="342.8" cy="316.9" rx="130.3" ry="133.1" fill="#fff"/>
      <rect x="339.3" y="181" width="10.8" height="5" fill="#fff"/>
    </g>
  </g>
  <!-- inner-left highlight streak -->
  <path d="M206.5,286 C204,302 204,322 207,340" fill="none" stroke="#fff" stroke-opacity="0.3" stroke-width="3" filter="url(#soft)"/>

  <!-- specular dashes -->
  <g stroke="#fff" stroke-opacity="0.8" stroke-width="1.6" stroke-linecap="round" filter="url(#soft2)">
    <path d="M271,153.8 L276.5,151.3"/>
    <path d="M260.6,165.8 L266,163.4"/>
    <path d="M249.8,176.6 L255.2,174.2"/>
    <path d="M236,188.8 L240.6,186.2"/>
    <path d="M390.6,145 L395.4,147"/>
    <path d="M381,149 L386,151.2" stroke-opacity="0.6"/>
    <path d="M376,152.8 L381,155" stroke-opacity="0.6"/>
    <path d="M369,154.4 L376,157" stroke-opacity="0.45"/>
    <path d="M514.5,309 C514,320 511.5,331 508.5,341" stroke-opacity="0.45" stroke-width="2.2"/>
  </g>

  <!-- goosenecks + phone holders -->
  <g filter="url(#soft2)">
    <g fill="none" stroke="#161616" stroke-width="3.5" stroke-linecap="butt">
      <path d="M298,364 C301,372 304,378 305.5,388 C307.5,400 308,412 307.8,427"/>
      <path d="M339,364 C339.5,374 340.5,380 341.5,390 C343,400 344,412 343.3,427"/>
      <path d="M383.3,364 C383,374 382.5,380 382,390 C381,400 380,412 379,427"/>
    </g>
    <g fill="#151515">
      <!-- knobs / ball joints -->
      <rect x="290" y="352" width="16" height="13" rx="4"/>
      <rect x="294" y="362" width="8" height="7" rx="2"/>
      <rect x="330.5" y="352" width="17" height="13" rx="4"/>
      <rect x="335" y="362" width="8" height="7" rx="2"/>
      <rect x="375" y="353" width="17" height="13.5" rx="4"/>
      <rect x="379.3" y="363" width="8" height="7" rx="2"/>
      <!-- left clamp -->
      <path d="M271.2,344.4 L275.2,343.6 L278.4,350.8 L308.4,341.4 L308.8,333.8 L314.2,333 L316.9,342.6 L317.4,347.8 L289.6,357.2 L281,359.2 L275.2,359.6 Z"/>
      <!-- mid clamp -->
      <path d="M318.3,336.7 L322.4,336.4 L323.4,344.8 L357,347.6 L357.2,339.9 L363,339.9 L363.4,355.6 L359,355.6 L317.6,350.4 L317,344 Z"/>
      <!-- right clamp -->
      <path d="M364.4,337.2 L369,337 L369.6,345.3 L402.8,349.8 L404.4,342.6 L409.1,343.2 L406.9,357.2 L403.4,359 L364,352.8 Z"/>
    </g>
  </g>

  <!-- control panel -->
  <g filter="url(#soft2)">
    <path d="M277.6,429 Q300,426.2 330,426 Q372,426 406.8,429.5 Q382,446 341,448.2 Q303,447 277.6,429 Z" fill="#827f7c" stroke="#4a121b" stroke-width="1.7" stroke-linejoin="round"/>
    <g fill="#8a8785" stroke="#a89a9b" stroke-width="0.9">
      <circle cx="318.8" cy="434.7" r="3.5"/>
      <circle cx="334.8" cy="434.7" r="3.5"/>
      <circle cx="349" cy="434.7" r="3.5"/>
      <circle cx="363" cy="434.7" r="3.5"/>
    </g>
    <circle cx="340.8" cy="444" r="1.8" fill="#111"/>
  </g>

  <!-- stand -->
  <g filter="url(#soft2)">
    <rect x="316" y="514" width="12" height="7.8" rx="3" fill="#8e8e8e"/>
    <rect x="316.5" y="515" width="6" height="3" rx="1.5" fill="#c9c9c9"/>
    <path fill="#141414" d="M320,489.4 Q341,493.5 361.8,489.4 C357.5,494 355,499 353.5,504.5 L354,510 L354.4,528.6 L353.5,531 L353.5,560 Q342,562.5 330,560 L331,545 L328.5,531 L326.5,528.6 L325.7,510 L330,504.5 C328,499 325,494 320,489.4 Z"/>
    <g fill="#f2f2f2">
      <rect x="332.2" y="505.6" width="2.6" height="1.7"/>
      <rect x="338" y="505.6" width="2.6" height="1.7"/>
      <rect x="344" y="505.6" width="2.6" height="1.7"/>
      <rect x="349.6" y="505.6" width="2.6" height="1.7"/>
    </g>
    <g fill="#8a8a8a">
      <circle cx="334" cy="531.6" r="1.1"/>
      <circle cx="340" cy="531.6" r="1.1"/>
      <circle cx="346" cy="531.6" r="1.1"/>
    </g>
    <rect x="353" y="513" width="14.4" height="10" rx="2" fill="#151515"/>
    <rect x="352" y="545" width="8" height="8" fill="#151515"/>
    <path fill="#151515" d="M358.3,542 L361,541 L362,538.3 L368,538.3 L370.8,543 L370.8,556 L368,560.5 L362,560.5 L361,557 L358.3,556 Z"/>
    <circle cx="364.5" cy="517.8" r="1" fill="#9a2a2a"/>
    <circle cx="368" cy="552" r="1" fill="#9a2a2a"/>
  </g>

  <!-- cable -->
  <g filter="url(#soft2)" fill="none" stroke="#131313" stroke-linecap="round" stroke-linejoin="round">
    <path d="M287.2,479.5 L284.6,494.5" stroke-width="5" stroke-linecap="butt"/>
    <path d="M284.5,494 C285.5,503 286.2,509 285.5,515 C284,526 277,533 270,537 C262,541.5 255,543.5 248,544.5 C235,546.5 215,546.5 192,546.8" stroke-width="2.5"/>
    <path fill="#101010" stroke="none" d="M160,552.5 C166,549.5 176,547.5 190,546 L194,546 C197.5,549 199.5,556 199.8,565 C200,574 198,583 193.5,590 C190,595 186,598 181.5,598.6 C177.5,598.8 175.5,596 174.8,591 C174.2,586 173.5,580 171.5,575.5 C168,574.5 163,574 160.5,572.5 C158.5,570 159.5,567.5 161,566 C158.5,564.5 158,561.5 160,559.5 C158.5,557.5 158.5,554.5 160,552.5 Z"/>
    <path fill="#fff" stroke="none" d="M181,594.6 C184.5,590 188.5,583.5 191.6,576.2 L193,577 C191,584.5 187,591.5 182.6,595.6 Z"/>
    <path fill="#fff" stroke="none" d="M171.2,555.4 L175.4,554.6 L175.8,556.6 L171.8,557.4 Z"/>
    <path d="M198.5,558.6 L203.6,557.4 M197.5,565 L201,567" stroke-width="3.2"/>
  </g>

  <!-- label lines -->
  <g fill="none" stroke="#f3c3cd" stroke-opacity="0.42" stroke-width="4.4" filter="url(#soft)">
    <path d="M162,216.5 H342.8 V179.5"/>
    <path d="M343.3,373.6 H525.8"/>
    <path d="M158.3,436 H317"/>
    <path d="M364.6,435 H525.4"/>
    <path d="M158.3,474.8 H334.4 V437.5"/>
    <path d="M525.4,475 H350.5 V437.5"/>
    <path d="M159,514 H285"/>
    <path d="M368,518.6 H525.8"/>
    <path d="M370.8,551.9 H525.8"/>
    <path d="M525.8,586 H343.7 V562"/>
  </g>
  <g fill="none" stroke="#75636a" stroke-width="1.6" filter="url(#softL)">
    <path d="M162,216.5 H342.8 V179.5"/>
    <path d="M343.3,373.6 H525.8"/>
    <path d="M158.3,436 H317"/>
    <path d="M364.6,435 H525.4"/>
    <path d="M158.3,474.8 H334.4 V437.5"/>
    <path d="M525.4,475 H350.5 V437.5"/>
    <path d="M159,514 H285"/>
    <path d="M368,518.6 H525.8"/>
    <path d="M370.8,551.9 H525.8"/>
    <path d="M525.8,586 H343.7 V562"/>
    <path d="M527.4,428.5 V436" stroke="#2a2a2a" stroke-width="1.1"/>
  </g>

  <!-- labels -->
  <g filter="url(#softL)">
    <text x="40" y="220.8" textLength="99" lengthAdjust="spacingAndGlyphs">SUPORT FIXARE</text>
    <text x="40" y="431.7" textLength="91.7" lengthAdjust="spacingAndGlyphs">PORNIT/OPRIT</text>
    <text x="40" y="469.9" textLength="157.7" lengthAdjust="spacingAndGlyphs">CONTROL LUMINOZITATE</text>
    <text x="40" y="508.8" textLength="127" lengthAdjust="spacingAndGlyphs">CABLU ALIMENTARE</text>
    <text x="518.5" y="369.9" textLength="110" lengthAdjust="spacingAndGlyphs">SUPORT TELEFON</text>
    <text x="518.5" y="431.2" textLength="158.2" lengthAdjust="spacingAndGlyphs">TEMPERATURA CULOARE</text>
    <text x="518.5" y="469.9" textLength="157.5" lengthAdjust="spacingAndGlyphs">CONTROL LUMINOZITATE</text>
    <text x="518.5" y="508.9" textLength="91.5" lengthAdjust="spacingAndGlyphs">SURUB FIXARE</text>
    <text x="518.5" y="547.8" textLength="91.5" lengthAdjust="spacingAndGlyphs">SURUB FIXARE</text>
    <text x="518.5" y="582.2" textLength="99.8" lengthAdjust="spacingAndGlyphs">FIXARE TREPIED</text>
  </g>
</svg>
</body>
</html>
